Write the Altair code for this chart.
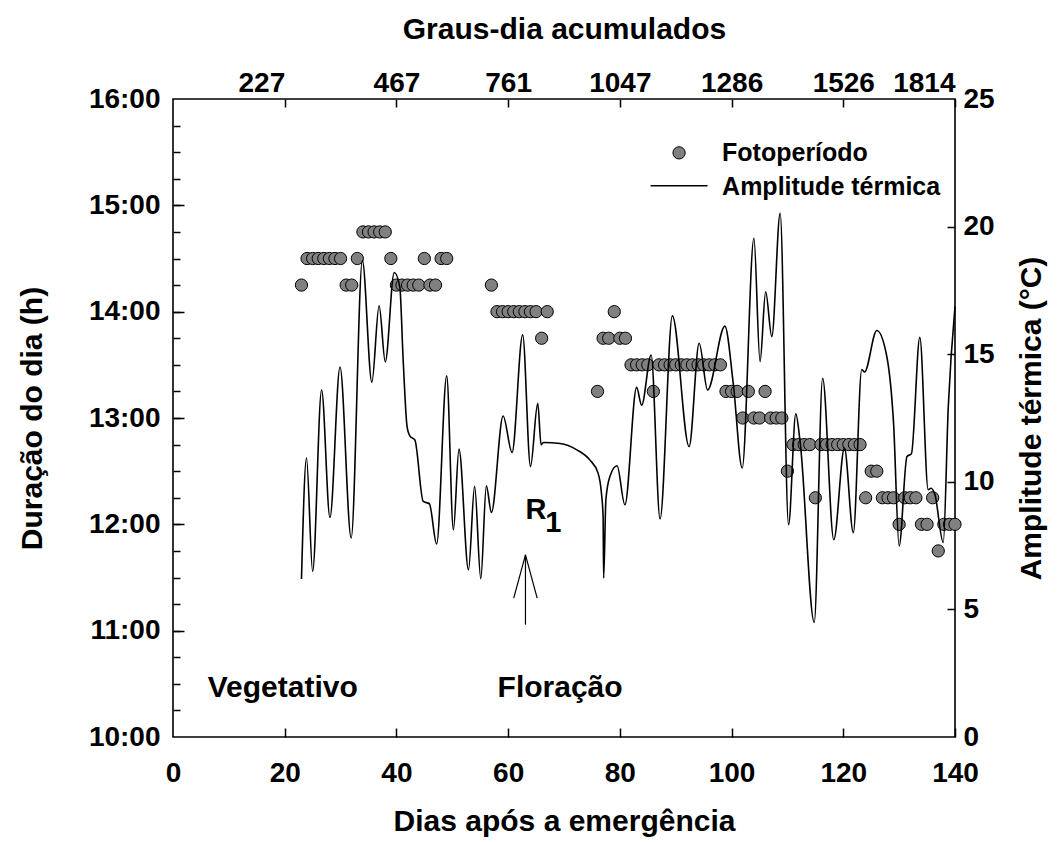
import altair as alt
import pandas as pd

# ---------------- data ----------------
foto_dia = [23, 24, 25, 26, 27, 28, 29, 30, 31, 32, 33, 34, 35, 36, 37, 38, 39,
            40, 41, 42, 43, 44, 45, 46, 47, 48, 49,
            57, 58, 59, 60, 61, 62, 63, 64, 65, 66, 67,
            76, 77, 78, 79, 80, 81, 82, 83, 84, 85, 86, 87, 88, 89, 90, 91, 92,
            93, 94, 95, 96, 97, 98, 99, 100, 101, 102, 103, 104, 105, 106, 107,
            108, 109, 110, 111, 112, 113, 114, 115, 116, 117, 118, 119, 120, 121,
            122, 123, 124, 125, 126, 127, 128, 129, 130, 131, 132, 133, 134, 135,
            136, 137, 138, 139, 140]
foto_hora = ["14:15", "14:30", "14:30", "14:30", "14:30", "14:30", "14:30", "14:30",
             "14:15", "14:15", "14:30", "14:45", "14:45", "14:45", "14:45", "14:45",
             "14:30", "14:15", "14:15", "14:15", "14:15", "14:15", "14:30", "14:15",
             "14:15", "14:30", "14:30",
             "14:15", "14:00", "14:00", "14:00", "14:00", "14:00", "14:00", "14:00",
             "14:00", "13:45", "14:00",
             "13:15", "13:45", "13:45", "14:00", "13:45", "13:45", "13:30", "13:30",
             "13:30", "13:30", "13:15", "13:30", "13:30", "13:30", "13:30", "13:30",
             "13:30", "13:30", "13:30", "13:30", "13:30", "13:30", "13:30", "13:15",
             "13:15", "13:15", "13:00", "13:15", "13:00", "13:00", "13:15", "13:00",
             "13:00", "13:00", "12:30", "12:45", "12:45", "12:45", "12:45", "12:15",
             "12:45", "12:45", "12:45", "12:45", "12:45", "12:45", "12:45", "12:45",
             "12:15", "12:30", "12:30", "12:15", "12:15", "12:15", "12:00", "12:15",
             "12:15", "12:15", "12:00", "12:00", "12:15", "11:45", "12:00", "12:00",
             "12:00"]

amp_dia = [23.0, 23.9, 25.0, 26.6, 28.1, 29.9, 31.9, 33.9, 35.6, 36.9, 38.0, 39.6,
           40.6, 41.2, 41.9, 42.4, 43.3, 44.8, 45.9, 47.2, 49.0, 50.2, 51.2, 52.9,
           54.0, 55.1, 56.1, 57.0, 59.1, 60.7, 62.6, 64.0, 65.3, 65.9, 66.3, 69.3,
           72.3, 74.6, 76.1, 76.7, 77.0, 77.1, 77.5, 78.2, 79.5, 80.9, 83.0, 83.9,
           85.6, 87.2, 89.4, 92.4, 94.2, 95.7, 98.8, 100.3, 101.9, 104.0, 105.1,
           106.1, 107.2, 108.7, 110.2, 111.5, 112.3, 114.8, 116.3, 118.3, 120.2,
           121.8, 123.3, 123.8, 126.0, 127.8, 129.0, 130.0, 131.4, 132.2, 133.7,
           135.2, 135.7, 136.4, 137.9, 138.8, 140.0]
amp_val = [6.19, 10.93, 6.49, 13.6, 8.6, 14.5, 7.8, 18.67, 13.9, 16.9, 14.7, 18.2,
           17.65, 14.8, 12.17, 11.8, 11.64, 9.23, 9.14, 7.56, 14.15, 8.12, 11.28, 6.55,
           9.82, 6.2, 9.84, 8.8, 12.58, 11.15, 15.76, 10.6, 13.08, 11.45, 11.54, 11.5,
           11.25, 10.86, 10.34, 9.56, 8.64, 6.23, 9.3, 10.2, 10.63, 9.1, 13.7, 13.0,
           14.97, 8.54, 16.5, 11.38, 15.43, 13.6, 16.1, 13.86, 10.54, 19.54, 14.71,
           17.45, 15.69, 20.52, 8.32, 12.66, 11.5, 4.49, 14.06, 7.73, 11.32,
           8.01, 14.4, 14.3, 15.93, 14.9, 12.3, 7.49, 10.99, 11.1, 15.66,
           9.69, 9.75, 9.5, 7.62, 12.95, 16.87]

x_ticks = [0, 20, 40, 60, 80, 100, 120, 140]
top_ticks = [20, 40, 60, 80, 100, 120, 140]
top_labels = ["227", "467", "761", "1047", "1286", "1526", "1814"]
hour_ticks = [10, 11, 12, 13, 14, 15, 16]
amp_ticks = [0, 5, 10, 15, 20, 25]

# ---------------- tables ----------------
def to_hours(s):
    h, m = s.split(":")
    return int(h) + int(m) / 60.0

df_foto = pd.DataFrame({"dia": foto_dia, "hora": [to_hours(s) for s in foto_hora]})
df_amp = pd.DataFrame({"dia": amp_dia, "amp": amp_val})
one = pd.DataFrame({"k": [0]})

W, H = 782, 638
FONT = "Liberation Sans"
LFS = 28   # tick labels
TFS = 30   # axis titles
XS = alt.Scale(domain=[0, 140], nice=False, zero=False)
YH = alt.Scale(domain=[10, 16], nice=False, zero=False)
YA = alt.Scale(domain=[0, 25], nice=False, zero=False)

top_expr = " : ".join(
    [f"datum.value == {v} ? '{l}'" for v, l in zip(top_ticks, top_labels)]
) + " : ''"

# photoperiod points + left/bottom labelled axes
pts = alt.Chart(df_foto).mark_circle(
    size=150, color="#808080", opacity=1, stroke="black", strokeWidth=1
).encode(
    x=alt.X("dia:Q", scale=XS, axis=alt.Axis(
        orient="bottom", values=x_ticks, ticks=False, domain=False, labelPadding=22,
        labelFlush=False,
        title="Dias após a emergência", titlePadding=19)),
    y=alt.Y("hora:Q", scale=YH, axis=alt.Axis(
        orient="left", values=hour_ticks, ticks=False, domain=False, labelPadding=13,
        labelFlush=False,
        labelExpr="format(datum.value, '02d') + ':00'",
        title="Duração do dia (h)", titlePadding=41)),
)

# thermal amplitude line + top/right labelled axes
line = alt.Chart(df_amp).mark_line(
    color="black", strokeWidth=1.6, interpolate="monotone"
).encode(
    x=alt.X("dia:Q", scale=XS, axis=alt.Axis(
        orient="top", values=top_ticks, ticks=False, domain=False, labelPadding=2,
        labelFlush=False,
        labelAlign=alt.condition("datum.value == 20 || datum.value == 140",
                                 alt.value("right"), alt.value("center")),
        labelExpr=top_expr, title="Graus-dia acumulados", titlePadding=25)),
    y=alt.Y("amp:Q", scale=YA, axis=alt.Axis(
        orient="right", values=amp_ticks, ticks=False, domain=False, labelPadding=8,
        labelFlush=False,
        title="Amplitude térmica (°C)", titleAngle=270, titleBaseline="top",
        titlePadding=22)),
)

# inward ticks: bottom + left minor
quarter = [10 + i * 0.25 for i in range(1, 24)]
ticksA = alt.Chart(df_foto).mark_point(opacity=0).encode(
    x=alt.X("dia:Q", scale=XS, axis=alt.Axis(
        orient="top", offset=-H, values=top_ticks, labels=False, domain=False,
        tickSize=9, title=None)),
    y=alt.Y("hora:Q", scale=YH, axis=alt.Axis(
        orient="right", offset=-W, values=quarter, labels=False, domain=False,
        tickSize=7, title=None)),
)
# inward ticks: top + left major
ticksB = alt.Chart(df_foto).mark_point(opacity=0).encode(
    x=alt.X("dia:Q", scale=XS, axis=alt.Axis(
        orient="bottom", offset=-H, values=top_ticks, labels=False, domain=False,
        tickSize=8, title=None)),
    y=alt.Y("hora:Q", scale=YH, axis=alt.Axis(
        orient="right", offset=-W, values=[11, 12, 13, 14, 15], labels=False,
        domain=False, tickSize=11, title=None)),
)
# inward ticks: right
ticksC = alt.Chart(df_amp).mark_point(opacity=0).encode(
    x=alt.X("dia:Q", scale=XS, axis=None),
    y=alt.Y("amp:Q", scale=YA, axis=alt.Axis(
        orient="left", offset=-W, values=[5, 10, 15, 20], labels=False,
        domain=False, tickSize=8, title=None)),
)


def txt(s, d, v, size=28, align="center", baseline="middle"):
    return alt.Chart(one).mark_text(
        text=s, font=FONT, fontWeight="bold", fontSize=size, align=align,
        baseline=baseline, color="black"
    ).encode(
        x=alt.XDatum(d, scale=XS, axis=None),
        y=alt.YDatum(v, scale=YA, axis=None),
    )


def seg(d1, v1, d2, v2, w=1.2):
    return alt.Chart(one).mark_rule(color="black", strokeWidth=w).encode(
        x=alt.XDatum(d1, scale=XS, axis=None),
        y=alt.YDatum(v1, scale=YA, axis=None),
        x2=alt.X2Datum(d2),
        y2=alt.Y2Datum(v2),
    )


leg_pt = alt.Chart(one).mark_circle(
    size=150, color="#808080", opacity=1, stroke="black", strokeWidth=1
).encode(
    x=alt.XDatum(90.6, scale=XS, axis=None),
    y=alt.YDatum(22.89, scale=YA, axis=None),
)

layers = [
    pts, line, ticksA, ticksB, ticksC,
    txt("Fotoperíodo", 98.3, 22.88, size=25, align="left"),
    seg(85.5, 21.6, 95.7, 21.6, w=1.5),
    txt("Amplitude térmica", 98.3, 21.57, size=25, align="left"),
    leg_pt,
    txt("Vegetativo", 19.65, 1.93, size=30),
    txt("Floração", 69.3, 1.93, size=30),
    txt("R", 65.0, 8.91, size=29),
    txt("1", 68.1, 8.37, size=29),
    seg(63.1, 7.14, 63.1, 4.4),
    seg(61.0, 5.44, 63.1, 7.14),
    seg(65.2, 5.44, 63.1, 7.14),
]

chart = alt.layer(*layers).resolve_scale(
    y="independent"
).resolve_axis(
    x="independent", y="independent"
).properties(
    width=W, height=H,
    autosize=alt.AutoSizeParams(type="none"),
    padding={"left": 165, "top": 91, "right": 100, "bottom": 102},
).configure_view(
    stroke="black", strokeWidth=1.6
).configure_axis(
    labelFont=FONT, labelFontSize=LFS, labelFontWeight="bold", labelColor="black",
    titleFont=FONT, titleFontSize=TFS, titleFontWeight="bold", titleColor="black",
    tickColor="black", tickWidth=1.5, grid=False,
)

chart.save("out.html", embed_options={"renderer": "svg", "actions": False})
